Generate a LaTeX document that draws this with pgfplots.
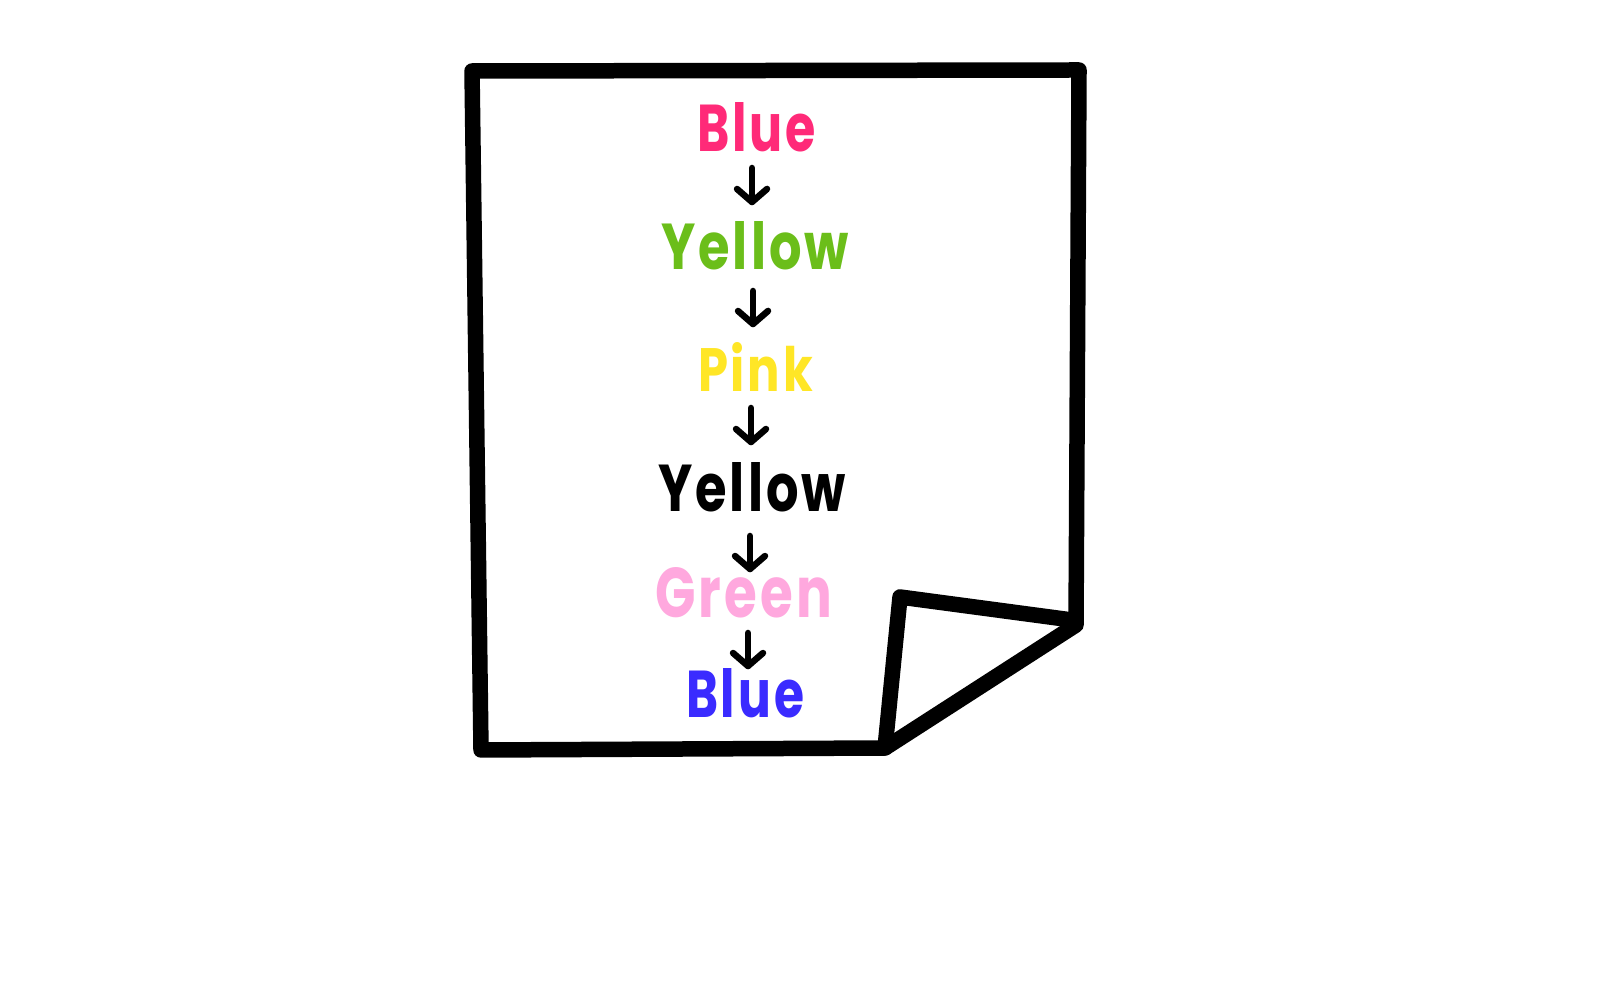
\documentclass[border=0pt]{standalone}
\usepackage{pgfplots}
\pgfplotsset{compat=1.18}
\usepackage{fontspec}
\setmainfont{Poppins}
\newfontfamily\pop{Poppins Bold}[LetterSpace=6]
\usepackage{graphicx}
\definecolor{cA}{HTML}{FF2A78}
\definecolor{cB}{HTML}{6BBE1A}
\definecolor{cC}{HTML}{FFE626}
\definecolor{cD}{HTML}{000000}
\definecolor{cE}{HTML}{FFA8DE}
\definecolor{cF}{HTML}{3A2BFF}
\newcommand{\word}[3]{\resizebox{#1mm}{#2mm}{\pop #3\unskip}}
\begin{document}
\begin{tikzpicture}
\begin{axis}[
  width=16cm, height=10cm, scale only axis,
  xmin=0, xmax=1600, ymin=0, ymax=1000, y dir=reverse,
  hide axis, clip=false,
]
% background (sets the picture size)
\addplot[draw=none, fill=white] coordinates {(0,0) (1600,0) (1600,1000) (0,1000) (0,0)};
% paper outline
\addplot[black, line width=1.55mm, line join=round, line cap=round]
  coordinates {(472,71) (1079,70) (1076,625) (885,748) (481,750) (472,71)};
% folded corner flap
\addplot[black, line width=1.55mm, line join=round, line cap=round]
  coordinates {(885,748) (900,597) (1072,620)};
% arrows
\pgfplotsset{arr/.style={black, line width=0.65mm, line join=round, line cap=round}}
\addplot[arr] coordinates {(752,168) (752,202)};
\addplot[arr] coordinates {(737,189) (752,202) (767,189)};
\addplot[arr] coordinates {(753,291) (753,324)};
\addplot[arr] coordinates {(738,311) (753,324) (768,311)};
\addplot[arr] coordinates {(751,408) (751,442)};
\addplot[arr] coordinates {(736,429) (751,442) (766,429)};
\addplot[arr] coordinates {(750,536) (750,569)};
\addplot[arr] coordinates {(735,556) (750,569) (765,556)};
\addplot[arr] coordinates {(748,633) (748,666)};
\addplot[arr] coordinates {(733,653) (748,666) (763,653)};
% words
\node[anchor=base, inner sep=0pt, text=cA] at (axis cs:756.5,152) {\word{11.9}{4.9}{Blue}};
\node[anchor=base, inner sep=0pt, text=cB] at (axis cs:755,270) {\word{18.8}{4.8}{Yellow}};
\node[anchor=base, inner sep=0pt, text=cC] at (axis cs:755.5,392) {\word{11.5}{4.9}{Pink}};
\node[anchor=base, inner sep=0pt, text=cD] at (axis cs:752,512) {\word{18.8}{4.9}{Yellow}};
\node[anchor=base, inner sep=0pt, text=cE] at (axis cs:743.5,618) {\word{17.7}{5.0}{Green}};
\node[anchor=base, inner sep=0pt, text=cF] at (axis cs:745,718) {\word{11.8}{4.9}{Blue}};
\end{axis}
\end{tikzpicture}
\end{document}
